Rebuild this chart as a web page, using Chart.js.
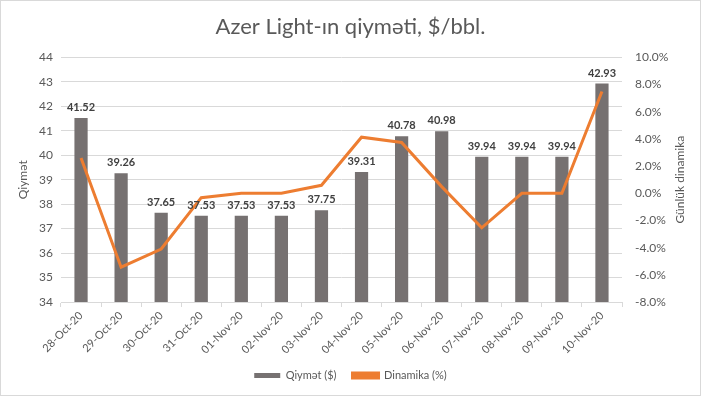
<!DOCTYPE html>
<html>
<head>
<meta charset="utf-8">
<script src="https://cdn.jsdelivr.net/npm/chart.js@4/dist/chart.umd.min.js"></script>
<style>
  html, body { margin: 0; padding: 0; background: #fff; }
  #wrap { position: relative; width: 699px; height: 394px; border: 1px solid #d9d9d9; }
</style>
</head>
<body>
<div id="wrap"><canvas id="chart"></canvas></div>
<script>
'use strict';

const dates = ['28-Oct-20', '29-Oct-20', '30-Oct-20', '31-Oct-20', '01-Nov-20', '02-Nov-20', '03-Nov-20',
  '04-Nov-20', '05-Nov-20', '06-Nov-20', '07-Nov-20', '08-Nov-20', '09-Nov-20', '10-Nov-20'];
const prices = [41.52, 39.26, 37.65, 37.53, 37.53, 37.53, 37.75, 39.31, 40.78, 40.98, 39.94, 39.94, 39.94, 42.93];
const dynamics = [2.6, -5.44, -4.10, -0.32, 0, 0, 0.59, 4.13, 3.74, 0.49, -2.54, 0, 0, 7.49];

const textColor = '#595959';
const gridColor = '#d9d9d9';
const font = 'Lato, "Open Sans", sans-serif';

// labels above the bars + right axis title (reads bottom to top like Excel)
const extras = {
  id: 'extras',
  afterDatasetsDraw(chart) {
    const ctx = chart.ctx;
    const meta = chart.getDatasetMeta(0);
    ctx.save();
    ctx.font = 'bold 11px ' + font;
    ctx.fillStyle = '#404040';
    ctx.textAlign = 'center';
    ctx.textBaseline = 'bottom';
    meta.data.forEach((bar, i) => {
      ctx.fillText(prices[i].toFixed(2), bar.x, bar.y - 5);
    });
    ctx.restore();
  },
  afterDraw(chart) {
    const ctx = chart.ctx;
    const area = chart.chartArea;
    ctx.save();
    ctx.translate(679, (area.top + area.bottom) / 2);
    ctx.rotate(-Math.PI / 2);
    ctx.font = '12px ' + font;
    ctx.fillStyle = textColor;
    ctx.textAlign = 'center';
    ctx.textBaseline = 'middle';
    ctx.fillText('Günlük dinamika', 0, 0);
    ctx.restore();
  }
};

const ctx = document.getElementById('chart').getContext('2d');
const chart = new Chart(ctx, {
  type: 'bar',
  data: {
    labels: dates,
    datasets: [{
      label: 'Qiymət ($)',
      data: prices,
      backgroundColor: '#767171',
      yAxisID: 'y',
      categoryPercentage: 1,
      barPercentage: 0.33,
      order: 1
    }, {
      type: 'line',
      label: 'Dinamika (%)',
      data: dynamics,
      borderColor: '#ED7D31',
      backgroundColor: '#ED7D31',
      borderWidth: 3,
      pointRadius: 0,
      tension: 0,
      yAxisID: 'y1',
      order: 0
    }]
  },
  options: {
    responsive: true,
    maintainAspectRatio: false,
    animation: false,
    layout: { padding: { left: 0, right: 0, top: 0, bottom: 4 } },
    plugins: {
      title: {
        display: true,
        text: 'Azer Light-ın qiymәti, $/bbl.',
        color: textColor,
        font: { family: font, size: 22, weight: 'normal' },
        padding: { top: 13, bottom: 17 }
      },
      legend: {
        position: 'bottom',
        labels: {
          color: textColor,
          font: { family: font, size: 11 },
          boxWidth: 26,
          boxHeight: 5,
          padding: 16,
          sort: (a, b) => a.datasetIndex - b.datasetIndex
        }
      },
      tooltip: { enabled: false }
    },
    scales: {
      x: {
        offset: true,
        grid: { display: true, drawOnChartArea: false, offset: true, color: gridColor, tickLength: 5 },
        border: { color: gridColor },
        ticks: { color: textColor, font: { family: font, size: 11 }, minRotation: 45, maxRotation: 45, padding: 2 },
        afterFit: s => { s.height = 52; }
      },
      y: {
        position: 'left',
        min: 34,
        max: 44,
        ticks: { stepSize: 1, color: textColor, font: { family: font, size: 12 }, padding: 8 },
        grid: { color: gridColor, drawTicks: false },
        border: { display: false },
        title: { display: true, text: 'Qiymәt', color: textColor, font: { family: font, size: 12 }, padding: { top: 15, bottom: 2 } },
        afterFit: s => { s.width = 60; }
      },
      y1: {
        position: 'right',
        min: -8,
        max: 10,
        ticks: {
          stepSize: 2,
          color: textColor,
          font: { family: font, size: 12 },
          padding: 13,
          callback: v => v.toFixed(1) + '%'
        },
        grid: { drawOnChartArea: false, drawTicks: false },
        border: { display: false },
        afterFit: s => { s.width = 78; }
      }
    }
  },
  plugins: [extras]
});
</script>
</body>
</html>
